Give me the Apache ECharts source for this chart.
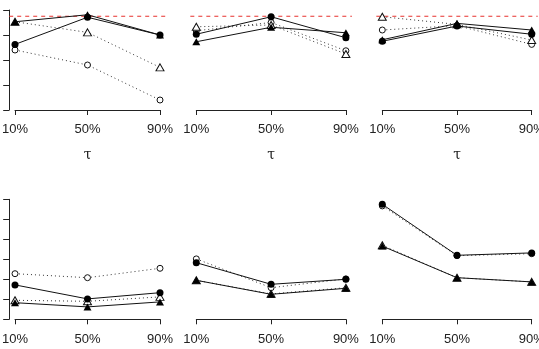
<!DOCTYPE html>
<html>
<head>
<meta charset="utf-8">
<script src="https://cdn.jsdelivr.net/npm/echarts@6/dist/echarts.min.js"></script>
<style>
  html, body { margin: 0; padding: 0; background: #fff; }
  #chart { width: 539px; height: 349px; }
</style>
</head>
<body>
<div id="chart"></div>
<script>
// quantile levels on the x axis
const taus = ["10%", "50%", "90%"];
const tauPos = [1, 2, 3];
const nominal = 0.95;

// top row: coverage per panel (filled circle, filled triangle, open circle, open triangle)
const cov1FilledCircle = [0.725, 0.942, 0.80];
const cov1FilledTri = [0.906, 0.962, 0.80];
const cov1OpenCircle = [0.68, 0.56, 0.28];
const cov1OpenTri = [0.906, 0.821, 0.541];

const cov2FilledCircle = [0.806, 0.946, 0.778];
const cov2FilledTri = [0.746, 0.862, 0.818];
const cov2OpenCircle = [0.834, 0.90, 0.674];
const cov2OpenTri = [0.866, 0.88, 0.648];

const cov3FilledCircle = [0.75, 0.872, 0.806];
const cov3FilledTri = [0.762, 0.893, 0.84];
const cov3OpenCircle = [0.84, 0.875, 0.725];
const cov3OpenTri = [0.946, 0.885, 0.76];

// bottom row: interval length per panel
const len1FilledCircle = [0.172, 0.102, 0.133];
const len1FilledTri = [0.083, 0.062, 0.087];
const len1OpenCircle = [0.228, 0.208, 0.255];
const len1OpenTri = [0.095, 0.090, 0.112];

const len2FilledCircle = [0.283, 0.175, 0.200];
const len2FilledTri = [0.195, 0.125, 0.155];
const len2OpenCircle = [0.302, 0.158, 0.202];
const len2OpenTri = [0.195, 0.127, 0.158];

const len3FilledCircle = [0.575, 0.320, 0.332];
const len3FilledTri = [0.366, 0.208, 0.187];
const len3OpenCircle = [0.567, 0.318, 0.328];
const len3OpenTri = [0.370, 0.208, 0.187];

const panelData = [
  [cov1FilledCircle, cov1FilledTri, cov1OpenCircle, cov1OpenTri],
  [cov2FilledCircle, cov2FilledTri, cov2OpenCircle, cov2OpenTri],
  [cov3FilledCircle, cov3FilledTri, cov3OpenCircle, cov3OpenTri],
  [len1FilledCircle, len1FilledTri, len1OpenCircle, len1OpenTri],
  [len2FilledCircle, len2FilledTri, len2OpenCircle, len2OpenTri],
  [len3FilledCircle, len3FilledTri, len3OpenCircle, len3OpenTri],
];

// column geometry: first tick x and tick spacing (px)
const cols = [
  { x0: 15, step: 72.5 },
  { x0: 196.3, step: 74.8 },
  { x0: 382.3, step: 74.7 },
];
const rows = [
  { top: 10, height: 100, min: 0.2, max: 1.0, interval: 0.2, offset: 5, refLine: true, showName: true },
  { top: 199.3, height: 120, min: 0, max: 0.6, interval: 0.1, offset: 6, refLine: false, showName: false },
];

const chart = echarts.init(document.getElementById("chart"));

const grid = [], xAxis = [], yAxis = [], series = [];

panelData.forEach((data, p) => {
  const row = rows[Math.floor(p / 3)];
  const col = cols[p % 3];
  const pad = 0.08 * col.step;
  const gPlot = grid.length, gAxis = grid.length + 1;

  // plot region (R usr with 4% padding on x)
  grid.push({
    left: col.x0 - pad, width: col.step * 2 + 2 * pad, top: row.top, height: row.height,
    containLabel: false, outerBoundsMode: "none",
  });
  // x axis display, spanning first to last tick
  grid.push({
    left: col.x0, width: col.step * 2, top: row.top, height: row.height,
    containLabel: false, outerBoundsMode: "none",
  });

  xAxis.push({ gridIndex: gPlot, type: "value", min: 0.92, max: 3.08, show: false });
  xAxis.push({
    gridIndex: gAxis,
    type: "category",
    data: taus,
    boundaryGap: false,
    offset: row.offset,
    axisLine: { lineStyle: { color: "#222", width: 1 } },
    axisTick: { length: 5, lineStyle: { color: "#222" } },
    axisLabel: { margin: 8, color: "#222", fontSize: 13, fontFamily: "Liberation Sans" },
    splitLine: { show: false },
    name: row.showName ? "τ" : "",
    nameLocation: "middle",
    nameGap: 33,
    nameTextStyle: { color: "#222", fontSize: 14, fontFamily: "DejaVu Serif" },
  });

  yAxis.push({
    gridIndex: gPlot,
    type: "value",
    min: row.min,
    max: row.max,
    interval: row.interval,
    show: p % 3 === 0,
    axisLine: { show: true, lineStyle: { color: "#222", width: 1 } },
    axisTick: { show: true, length: 6, lineStyle: { color: "#222" } },
    axisLabel: { show: false },
    splitLine: { show: false },
  });
  yAxis.push({ gridIndex: gAxis, type: "value", show: false });

  const pts = (vals) => vals.map((v, k) => [tauPos[k], v]);
  const base = { type: "line", xAxisIndex: gPlot, yAxisIndex: gPlot, animation: false, showSymbol: true };

  series.push(Object.assign({}, base, {
    data: pts(data[2]), symbol: "circle", symbolSize: 6,
    itemStyle: { color: "#fff", borderColor: "#111", borderWidth: 1 },
    lineStyle: { color: "#333", width: 1, type: [1, 3] },
  }));
  series.push(Object.assign({}, base, {
    data: pts(data[3]), symbol: "triangle", symbolSize: [8, 7],
    itemStyle: { color: "#fff", borderColor: "#111", borderWidth: 1 },
    lineStyle: { color: "#333", width: 1, type: [1, 3] },
  }));
  series.push(Object.assign({}, base, {
    data: pts(data[0]), symbol: "circle", symbolSize: 7,
    itemStyle: { color: "#000", borderWidth: 0 },
    lineStyle: { color: "#111", width: 1 },
  }));
  series.push(Object.assign({}, base, {
    data: pts(data[1]), symbol: "triangle", symbolSize: [8, 7],
    itemStyle: { color: "#000", borderWidth: 0 },
    lineStyle: { color: "#111", width: 1 },
  }));

  if (row.refLine) {
    series.push(Object.assign({}, base, {
      data: [[0.92, nominal], [3.08, nominal]], showSymbol: false, symbol: "none",
      lineStyle: { color: "#e8322e", width: 1, type: [4, 4] },
      z: 1,
    }));
  }
});

chart.setOption({ animation: false, grid, xAxis, yAxis, series });
</script>
</body>
</html>
